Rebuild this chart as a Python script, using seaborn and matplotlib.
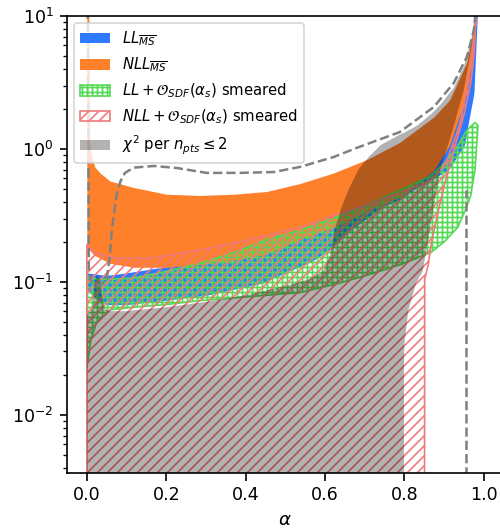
import matplotlib
matplotlib.use("Agg")
import matplotlib.pyplot as plt
import seaborn as sns
import pandas as pd

# ---------------------------------------------------------------------------
# Band limits as a function of alpha
# ---------------------------------------------------------------------------
# LL (MS-bar)
ll_x = [0.0, 0.02, 0.05, 0.1, 0.19, 0.3, 0.44, 0.57, 0.61, 0.66, 0.705, 0.74,
        0.788, 0.82, 0.874, 0.91, 0.95, 0.975, 0.985]
ll_hi = [0.117, 0.115, 0.112, 0.117, 0.129, 0.141, 0.182, 0.229, 0.257, 0.295,
         0.355, 0.398, 0.468, 0.550, 0.741, 1.07, 2.24, 6.31, 12.6]
ll_lo = [0.0871, 0.0759, 0.0676, 0.0676, 0.0724, 0.0794, 0.0977, 0.145, 0.174,
         0.240, 0.302, 0.363, 0.417, 0.490, 0.603, 0.692, 1.05, 2.63, 12.6]

# NLL (MS-bar)
nll_x = [0.0, 0.005, 0.007, 0.0126, 0.02, 0.033, 0.058, 0.118, 0.2, 0.285, 0.37,
         0.453, 0.537, 0.622, 0.705, 0.788, 0.874, 0.914, 0.957, 0.977, 0.983]
nll_hi = [20.0, 10.0, 1.12, 0.871, 0.733, 0.661, 0.575, 0.513, 0.457, 0.447,
          0.457, 0.479, 0.550, 0.661, 0.832, 1.12, 1.74, 2.34, 4.47, 8.91, 12.6]
nll_lo = [0.182, 0.178, 0.174, 0.166, 0.158, 0.151, 0.138, 0.129, 0.129, 0.135,
          0.145, 0.162, 0.209, 0.257, 0.339, 0.437, 0.692, 1.07, 2.63, 6.31, 12.6]

# LL + O_SDF(alpha_s), smeared
llsm_x = [0.0, 0.005, 0.01, 0.025, 0.06, 0.118, 0.2, 0.285, 0.37, 0.453, 0.537,
          0.622, 0.705, 0.79, 0.866, 0.9, 0.934, 0.955, 0.967, 0.978, 0.985]
llsm_hi = [0.110, 0.110, 0.107, 0.105, 0.105, 0.107, 0.120, 0.138, 0.166, 0.209,
           0.245, 0.302, 0.380, 0.490, 0.631, 0.776, 1.05, 1.35, 1.48, 1.58, 1.51]
llsm_lo = [0.0224, 0.0282, 0.0363, 0.0501, 0.0617, 0.0646, 0.0676, 0.0724,
           0.0759, 0.0794, 0.0832, 0.0955, 0.112, 0.135, 0.166, 0.200, 0.257,
           0.355, 0.447, 0.708, 1.48]

# NLL + O_SDF(alpha_s), smeared
nllsm_x = [0.0, 0.02, 0.076, 0.16, 0.285, 0.41, 0.537, 0.62, 0.705, 0.788, 0.85,
           0.851, 0.86, 0.866, 0.874, 0.884, 0.9, 0.909, 0.93, 0.942, 0.95,
           0.967, 0.975, 0.982]
nllsm_hi = [0.191, 0.166, 0.151, 0.151, 0.174, 0.209, 0.257, 0.316, 0.380, 0.468,
            0.550, 0.550, 0.575, 0.589, 0.617, 0.661, 0.759, 0.851, 1.26, 1.66,
            2.24, 4.17, 7.08, 12.6]
nllsm_lo = [1e-5, 1e-5, 1e-5, 1e-5, 1e-5, 1e-5, 1e-5, 1e-5, 1e-5, 1e-5, 1e-5,
            0.105, 0.135, 0.182, 0.240, 0.331, 0.525, 0.661, 1.12, 1.48, 1.82,
            3.16, 5.01, 12.6]

# chi^2 per n_pts <= 2 region
chi_x = [0.0, 0.015, 0.02, 0.025, 0.032, 0.038, 0.045, 0.06, 0.1, 0.2, 0.3, 0.4,
         0.5, 0.56, 0.595, 0.612, 0.625, 0.64, 0.66, 0.685, 0.71, 0.74, 0.79,
         0.798, 0.799, 0.8, 0.81, 0.829, 0.846, 0.87, 0.89, 0.924, 0.95, 0.97,
         0.98]
chi_hi = [0.0562, 0.0631, 0.1, 0.112, 0.107, 0.0794, 0.0631, 0.0603, 0.0603,
          0.0646, 0.0708, 0.0794, 0.0933, 0.105, 0.120, 0.158, 0.251, 0.355,
          0.501, 0.708, 0.871, 1.07, 1.29, 1.32, 1.32, 1.33, 1.38, 1.48, 1.62,
          1.86, 2.14, 2.88, 4.17, 7.08, 12.6]
chi_lo = [1e-5] * 24 + [0.0251, 0.0347, 0.0617, 0.0977, 0.120, 0.316, 0.692,
                        1.48, 2.82, 6.03, 12.6]

# Dashed contour
contour_x = [0.002, 0.004, 0.005, 0.012, 0.03, 0.05, 0.058, 0.063, 0.07, 0.076,
             0.085, 0.096, 0.118, 0.169, 0.227, 0.302, 0.385, 0.471, 0.537,
             0.622, 0.68, 0.788, 0.874, 0.924, 0.957, 0.975, 0.98]
contour_y = [11.2, 1.0, 0.117, 0.1, 0.0933, 0.105, 0.158, 0.245, 0.355, 0.468,
             0.575, 0.661, 0.724, 0.745, 0.719, 0.661, 0.661, 0.671, 0.733,
             0.871, 1.02, 1.34, 2.07, 3.13, 4.90, 7.85, 11.2]
edge_x = [0.955, 0.955]
edge_y = [1e-5, 0.49]

labels = [r"$LL_{\overline{MS}}$",
          r"$NLL_{\overline{MS}}$",
          r"$LL + \mathcal{O}_{SDF}(\alpha_s)$ smeared",
          r"$NLL + \mathcal{O}_{SDF}(\alpha_s)$ smeared",
          r"$\chi^2$ per $n_{pts} \leq 2$"]

# ---------------------------------------------------------------------------
sns.set_style("ticks", {
    "axes.edgecolor": "black",
    "xtick.color": "black",
    "ytick.color": "black",
    "text.color": "black",
    "axes.labelcolor": "black",
})
plt.rcParams["font.family"] = ["DejaVu Sans"]
plt.rcParams["hatch.linewidth"] = 1.0

fig = plt.figure(figsize=(500 / 120, 528 / 120), dpi=120)
ax = fig.add_axes([0.134, 0.1042, 0.8734, 0.8655])

blue = (0.18, 0.48, 1.0)
orange = (1.0, 0.50, 0.17)
green = (0.33, 0.85, 0.33)
red = (0.94, 0.48, 0.48)

ax.fill_between(ll_x, ll_lo, ll_hi, color=blue, linewidth=0, label=labels[0])
ax.fill_between(nll_x, nll_lo, nll_hi, color=orange, linewidth=0, label=labels[1])
ax.fill_between(llsm_x, llsm_lo, llsm_hi, facecolor="none", edgecolor=green,
                hatch="++++", linewidth=1.0, label=labels[2])
ax.fill_between(nllsm_x, nllsm_lo, nllsm_hi, facecolor="none", edgecolor=red,
                hatch="////", linewidth=1.0, label=labels[3])
ax.fill_between(chi_x, chi_lo, chi_hi, color="black", alpha=0.3, linewidth=0,
                label=labels[4])

contour = pd.DataFrame({"alpha": contour_x, "y": contour_y})
edge = pd.DataFrame({"alpha": edge_x, "y": edge_y})
sns.lineplot(data=contour, x="alpha", y="y", ax=ax, color="gray", linestyle="--",
             linewidth=1.5, estimator=None, sort=False, legend=False)
sns.lineplot(data=edge, x="alpha", y="y", ax=ax, color="gray", linestyle="--",
             linewidth=1.5, estimator=None, sort=False, legend=False)

ax.set_yscale("log")
ax.set_xlim(-0.05, 1.05)
ax.set_ylim(3.66e-3, 10)
ax.set_xticks([0.0, 0.2, 0.4, 0.6, 0.8, 1.0])
ax.set_xlabel(r"$\alpha$", fontsize=11)
ax.set_ylabel("")
ax.tick_params(axis="both", which="major", labelsize=10.5, length=4.5, width=1.0)
ax.tick_params(axis="both", which="minor", length=2.5, width=0.8)
for sp in ax.spines.values():
    sp.set_linewidth(1.0)

ax.legend(loc="upper left", fontsize=8.9, frameon=True)

fig.savefig("out.png", dpi=120)
